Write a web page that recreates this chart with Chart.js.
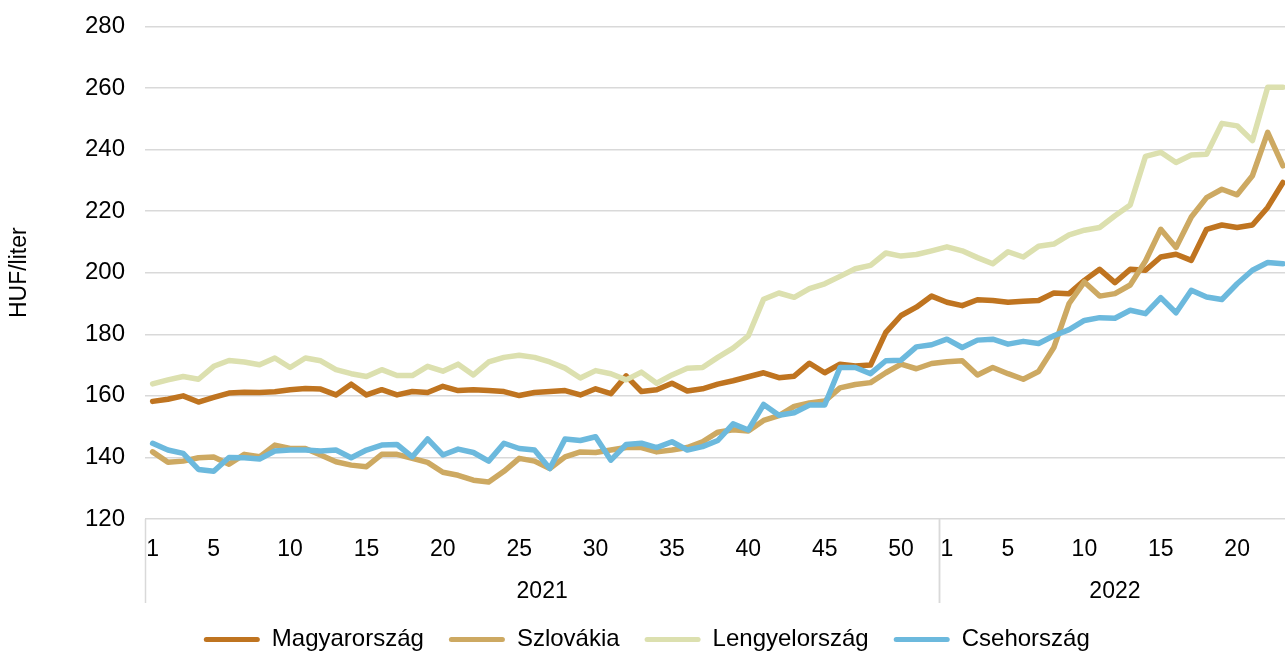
<!DOCTYPE html>
<html>
<head>
<meta charset="utf-8">
<script src="https://cdn.jsdelivr.net/npm/chart.js@4.4.1/dist/chart.umd.min.js"></script>
<style>
  html, body { margin: 0; padding: 0; background: #fff; width: 1285px; height: 651px; overflow: hidden; }
  #wrap { position: absolute; left: 0; top: -8px; width: 1300px; height: 659px; }
</style>
</head>
<body>
<div id="wrap"><canvas id="c" width="1300" height="659"></canvas></div>
<script>
// ---- data ----
const weeks2021 = [1,2,3,4,5,6,7,8,9,10,11,12,13,14,15,16,17,18,19,20,21,22,23,24,25,26,27,28,29,30,31,32,33,34,35,36,37,38,39,40,41,42,43,44,45,46,47,48,49,50,51,52];
const weeks2022 = [1,2,3,4,5,6,7,8,9,10,11,12,13,14,15,16,17,18,19,20,21,22,23];
const categories = weeks2021.concat(weeks2022);
const years = ['2021', '2022'];
const yearCounts = [weeks2021.length, weeks2022.length];
const shownWeekTicks = [1, 5, 10, 15, 20, 25, 30, 35, 40, 45, 50];
const yTicks = [120, 140, 160, 180, 200, 220, 240, 260, 280];

const magyarorszag = [158.2,158.9,160.0,158.0,159.5,160.9,161.2,161.1,161.3,162.0,162.4,162.2,160.3,163.8,160.3,162.0,160.3,161.4,161.1,163.1,
  161.7,162.0,161.7,161.4,160.1,161.1,161.4,161.7,160.3,162.3,160.7,166.5,161.4,162.0,164.1,161.6,162.3,163.8,164.9,
  166.2,167.5,165.9,166.4,170.6,167.5,170.3,169.7,170.0,180.6,186.1,188.8,192.4,190.4,189.3,191.2,191.0,190.4,190.7,
  191.0,193.4,193.2,197.5,201.1,196.8,201.1,200.8,205.1,206.0,204.0,214.1,215.5,214.7,215.5,221.2,229.3];
const szlovakia = [141.8,138.4,138.8,139.9,140.1,137.8,141.0,140.2,144.0,142.9,142.9,140.8,138.6,137.5,137.0,141.0,141.0,139.7,138.4,135.2,
  134.2,132.6,132.0,135.5,139.7,138.8,136.4,140.2,141.8,141.6,142.4,143.2,143.2,141.8,142.4,143.2,145.1,148.2,149.0,
  148.6,152.0,153.6,156.6,157.7,158.3,162.6,163.7,164.3,167.5,170.3,168.8,170.5,171.1,171.4,166.8,169.2,167.2,165.4,
  167.9,175.7,190.0,197.0,192.4,193.2,196.0,203.8,214.1,208.2,218.1,224.4,227.1,225.3,231.5,245.6,234.7];
const lengyelorszag = [163.9,165.2,166.3,165.4,169.6,171.5,171.0,170.1,172.3,169.2,172.3,171.4,168.5,167.2,166.3,168.5,166.6,166.6,169.6,168.0,
  170.3,166.8,171.0,172.5,173.2,172.5,171.0,169.0,165.8,168.2,167.2,165.2,167.7,164.1,166.8,169.0,169.2,172.5,175.5,
  179.5,191.4,193.4,192.0,194.8,196.4,198.8,201.3,202.4,206.4,205.4,205.9,207.1,208.4,207.1,204.9,202.9,206.8,205.1,
  208.6,209.3,212.3,213.8,214.7,218.5,222.0,237.8,239.1,235.8,238.2,238.5,248.5,247.7,242.9,260.2,260.2];
const csehorszag = [144.6,142.4,141.3,136.1,135.5,140.0,139.9,139.5,142.1,142.4,142.4,142.1,142.4,139.9,142.4,144.0,144.2,140.2,146.0,140.8,
  142.7,141.6,138.8,144.6,142.9,142.4,136.4,146.0,145.5,146.7,139.1,144.2,144.6,143.2,145.1,142.4,143.5,145.5,150.9,
  148.9,157.2,153.7,154.5,157.0,157.0,169.2,169.2,167.2,171.4,171.6,175.9,176.6,178.4,175.7,178.1,178.4,176.8,177.7,
  177.0,179.5,181.5,184.5,185.4,185.2,187.8,186.7,191.9,187.0,194.3,192.1,191.3,196.4,200.8,203.3,202.9];

const seriesNames = ['Magyarország', 'Szlovákia', 'Lengyelország', 'Csehország'];
const seriesData = [magyarorszag, szlovakia, lengyelorszag, csehorszag];
const seriesColors = ['#BF7420', '#CDA962', '#DCE0AF', '#6CB9DD'];

// ---- styling ----
const FONT = '"Liberation Sans", Arial, sans-serif';
const GRID = '#d9d9d9';

const yearPlugin = {
  id: 'yearGroups',
  afterDraw(chart) {
    const x = chart.scales.x;
    const ctx = chart.ctx;
    const area = chart.chartArea;
    const half = (x.getPixelForValue(1) - x.getPixelForValue(0)) / 2;
    ctx.save();
    ctx.strokeStyle = GRID;
    ctx.lineWidth = 1.5;
    ctx.fillStyle = '#000';
    ctx.font = '23px ' + FONT;
    ctx.textAlign = 'center';
    ctx.textBaseline = 'middle';
    let start = 0;
    years.forEach((yr, k) => {
      const end = start + yearCounts[k] - 1;
      const x0 = x.getPixelForValue(start) - half;
      const x1 = x.getPixelForValue(end) + half;
      [x0, x1].forEach(px => {
        ctx.beginPath();
        ctx.moveTo(Math.round(px) + 0.5, area.bottom);
        ctx.lineTo(Math.round(px) + 0.5, area.bottom + 84);
        ctx.stroke();
      });
      ctx.fillText(yr, (x0 + x1) / 2, area.bottom + 73);
      start = end + 1;
    });
    ctx.restore();
  }
};

new Chart(document.getElementById('c'), {
  type: 'line',
  data: {
    labels: categories.map(String),
    datasets: seriesNames.map((name, i) => ({
      label: name,
      data: seriesData[i],
      borderColor: seriesColors[i],
      backgroundColor: seriesColors[i],
      borderWidth: 5.5,
      pointRadius: 0,
      pointHoverRadius: 0,
      tension: 0,
      borderJoinStyle: 'round',
      borderCapStyle: 'round',
      fill: false,
      order: seriesNames.length - i
    }))
  },
  options: {
    responsive: false,
    animation: false,
    events: [],
    layout: { padding: { left: 0, right: 6.4, top: 34, bottom: 0 } },
    scales: {
      x: {
        type: 'category',
        offset: true,
        grid: { display: false, drawTicks: false },
        border: { display: false },
        ticks: {
          autoSkip: false,
          maxRotation: 0,
          minRotation: 0,
          padding: 17,
          color: '#000',
          font: { family: FONT, size: 23 },
          callback: function (value, index) {
            const w = categories[index];
            return shownWeekTicks.includes(w) ? String(w) : '';
          }
        },
        afterFit(scale) { scale.height = 83.5; }
      },
      y: {
        min: 120,
        max: 280,
        afterBuildTicks(scale) { scale.ticks = yTicks.map(v => ({ value: v })); },
        grid: { color: GRID, lineWidth: 1.5, drawTicks: false },
        border: { display: false },
        ticks: {
          padding: 20,
          color: '#000',
          font: { family: FONT, size: 24 }
        },
        title: {
          display: true,
          text: 'HUF/liter',
          color: '#000',
          font: { family: FONT, size: 23 },
          padding: { top: 5.5, bottom: 0 }
        },
        afterFit(scale) { scale.width = 145; }
      }
    },
    plugins: {
      tooltip: { enabled: false },
      legend: {
        position: 'bottom',
        maxHeight: 48.5,
        labels: {
          boxWidth: 56,
          boxHeight: 5,
          useBorderRadius: true,
          borderRadius: 2.5,
          padding: 25,
          color: '#000',
          font: { family: FONT, size: 24 },
          sort: (a, b) => a.datasetIndex - b.datasetIndex,
          generateLabels(chart) {
            const items = Chart.defaults.plugins.legend.labels.generateLabels(chart);
            items.forEach(it => { it.lineWidth = 0; });
            return items;
          }
        }
      }
    }
  },
  plugins: [yearPlugin]
});
</script>
</body>
</html>
